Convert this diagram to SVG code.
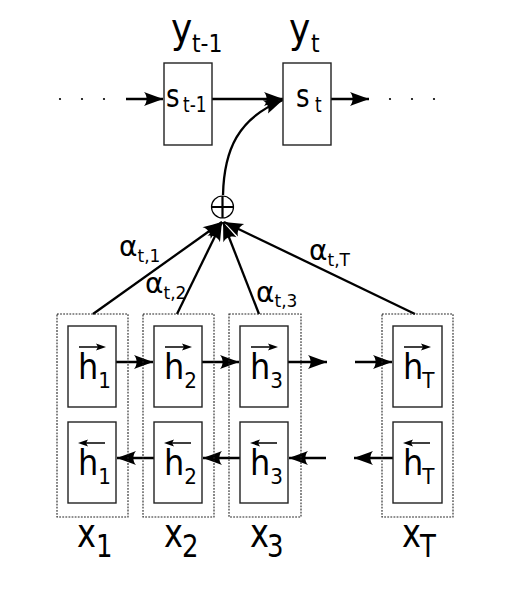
<svg xmlns="http://www.w3.org/2000/svg" width="522" height="594" viewBox="0 0 522 594">
<style>
.box{fill:#fff;stroke:#222;stroke-width:1.4}
.dot{fill:none;stroke:#222;stroke-width:1.1;stroke-dasharray:1.8 1.3}
.con{fill:none;stroke:#000;stroke-width:2.3}
.vec{fill:none;stroke:#000;stroke-width:1.3}
.vh{fill:#000}
.t{font-family:"DejaVu Sans",Verdana,sans-serif;fill:#000}
.h{font-size:32px}
.hs{font-size:20px}
</style>
<defs>
<marker id="ah" viewBox="-20 -8 22 16" refX="1" refY="0" markerWidth="22" markerHeight="16" markerUnits="userSpaceOnUse" orient="auto">
<path d="M1,0 C-5,-2 -12,-5 -18,-7 C-14.5,-3 -14.5,3 -18,7 C-12,5 -5,2 1,0 Z" fill="#000"/>
</marker>
</defs>
<rect width="522" height="594" fill="#fff"/>

<g id="connectors">
<circle cx="60" cy="99" r="1.1"/><circle cx="82" cy="99" r="1.1"/><circle cx="104" cy="99" r="1.1"/>
<circle cx="390" cy="99" r="1.1"/><circle cx="412" cy="99" r="1.1"/><circle cx="434" cy="99" r="1.1"/>
<path class="con" d="M126,99 H163" marker-end="url(#ah)"/>
<path class="con" d="M212,99 H283" marker-end="url(#ah)"/>
<path class="con" d="M331,99 H369" marker-end="url(#ah)"/>
<path class="con" d="M223,195 C224,150 238,118 283,100" marker-end="url(#ah)"/>
<path class="con" d="M93,314 L222,222" marker-end="url(#ah)"/>
<path class="con" d="M177,314 L222,222" marker-end="url(#ah)"/>
<path class="con" d="M259,314 L223,222" marker-end="url(#ah)"/>
<path class="con" d="M415,314 L224,222" marker-end="url(#ah)"/>
<path class="con" d="M116,362 H153" marker-end="url(#ah)"/>
<path class="con" d="M202,362 H239" marker-end="url(#ah)"/>
<path class="con" d="M288,362 H327" marker-end="url(#ah)"/>
<path class="con" d="M355,362 H392" marker-end="url(#ah)"/>
<path class="con" d="M154,458 H117" marker-end="url(#ah)"/>
<path class="con" d="M240,458 H203" marker-end="url(#ah)"/>
<path class="con" d="M326,458 H289" marker-end="url(#ah)"/>
<path class="con" d="M393,458 H354" marker-end="url(#ah)"/>
</g>

<g id="sum">
<circle cx="222.5" cy="207" r="11" fill="none" stroke="#000" stroke-width="1.2"/>
<path d="M222.5,196 V218 M211.5,207 H233.5" stroke="#000" stroke-width="2.2"/>
</g>

<g id="s_prev">
<rect class="box" x="164" y="63" width="48" height="82"/>
<text class="t" transform="translate(166,107) scale(1,1.2)" font-size="26">s<tspan x="17" dy="4" font-size="17">t-1</tspan></text>
<text class="t" transform="translate(171,42) scale(1,1.12)" font-size="36">y<tspan x="21" dy="9" font-size="22">t-1</tspan></text>
</g>
<g id="s_t">
<rect class="box" x="283" y="63" width="48" height="82"/>
<text class="t" transform="translate(296,107) scale(1,1.2)" font-size="26">s<tspan x="19" dy="4" font-size="17">t</tspan></text>
<text class="t" transform="translate(289,42) scale(1,1.12)" font-size="36">y<tspan x="22" dy="9" font-size="22">t</tspan></text>
</g>

<g id="alpha_labels">
<text class="t" x="119" y="256" font-size="28">α<tspan dy="6" font-size="17">t,1</tspan></text>
<text class="t" x="145" y="293" font-size="28">α<tspan dy="6" font-size="17">t,2</tspan></text>
<text class="t" x="256" y="302" font-size="28">α<tspan dy="5" font-size="17">t,3</tspan></text>
<text class="t" x="309" y="260" font-size="28">α<tspan dy="6" font-size="17">t,T</tspan></text>
</g>

<g id="col1">
<rect class="dot" x="57" y="314" width="71" height="203"/>
<rect class="box" x="68" y="326" width="48" height="81"/>
<rect class="box" x="68" y="422" width="48" height="81"/>
<path class="vec" d="M79,347 H101 M82,443 H105"/>
<path class="vh" d="M106,347 L96,343.5 L98,347 L96,350.5 Z M78,443 L88,439.5 L86,443 L88,446.5 Z"/>
<text class="t h" transform="translate(78,379) scale(1,1.1)">h<tspan class="hs" dx="0" dy="8">1</tspan></text>
<text class="t h" transform="translate(78,475) scale(1,1.1)">h<tspan class="hs" dx="0" dy="8">1</tspan></text>
<text class="t" transform="translate(77,547) scale(1,1.25)" font-size="32">x<tspan x="19" dy="8" font-size="26">1</tspan></text>
</g>
<g id="col2">
<rect class="dot" x="143" y="314" width="71" height="203"/>
<rect class="box" x="154" y="326" width="48" height="81"/>
<rect class="box" x="154" y="422" width="48" height="81"/>
<path class="vec" d="M165,347 H187 M168,443 H191"/>
<path class="vh" d="M192,347 L182,343.5 L184,347 L182,350.5 Z M164,443 L174,439.5 L172,443 L174,446.5 Z"/>
<text class="t h" transform="translate(164,379) scale(1,1.1)">h<tspan class="hs" dx="0" dy="8">2</tspan></text>
<text class="t h" transform="translate(164,475) scale(1,1.1)">h<tspan class="hs" dx="0" dy="8">2</tspan></text>
<text class="t" transform="translate(164,547) scale(1,1.25)" font-size="32">x<tspan x="18" dy="8" font-size="26">2</tspan></text>
</g>
<g id="col3">
<rect class="dot" x="229" y="314" width="72" height="203"/>
<rect class="box" x="240" y="326" width="48" height="81"/>
<rect class="box" x="240" y="422" width="48" height="81"/>
<path class="vec" d="M251,347 H273 M254,443 H277"/>
<path class="vh" d="M278,347 L268,343.5 L270,347 L268,350.5 Z M250,443 L260,439.5 L258,443 L260,446.5 Z"/>
<text class="t h" transform="translate(250,379) scale(1,1.1)">h<tspan class="hs" dx="0" dy="8">3</tspan></text>
<text class="t h" transform="translate(250,475) scale(1,1.1)">h<tspan class="hs" dx="0" dy="8">3</tspan></text>
<text class="t" transform="translate(250,547) scale(1,1.25)" font-size="32">x<tspan x="17" dy="8" font-size="26">3</tspan></text>
</g>
<g id="colT">
<rect class="dot" x="382" y="314" width="71" height="203"/>
<rect class="box" x="393" y="326" width="49" height="81"/>
<rect class="box" x="393" y="422" width="49" height="81"/>
<path class="vec" d="M404,347 H426 M407,443 H430"/>
<path class="vh" d="M431,347 L421,343.5 L423,347 L421,350.5 Z M403,443 L413,439.5 L411,443 L413,446.5 Z"/>
<text class="t h" transform="translate(403,379) scale(1,1.1)">h<tspan class="hs" dx="-1" dy="8">T</tspan></text>
<text class="t h" transform="translate(403,475) scale(1,1.1)">h<tspan class="hs" dx="-1" dy="8">T</tspan></text>
<text class="t" transform="translate(402,547) scale(1,1.25)" font-size="32">x<tspan x="18" dy="8" font-size="26">T</tspan></text>
</g>
</svg>
